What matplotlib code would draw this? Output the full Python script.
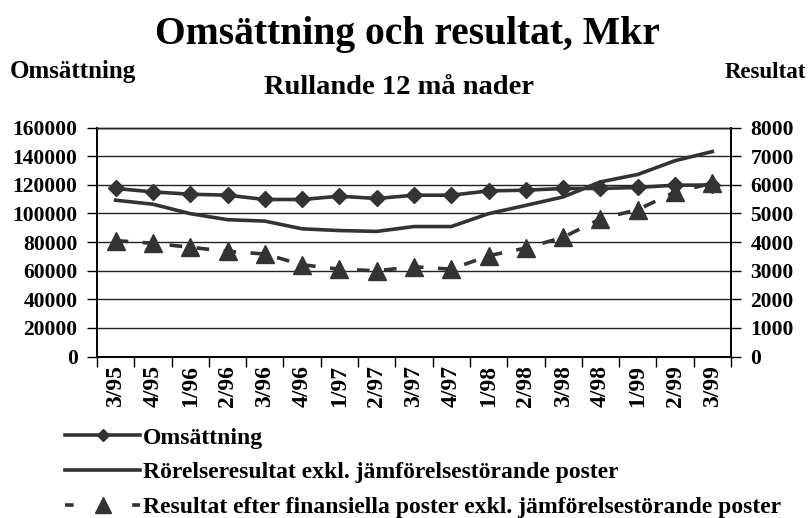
import matplotlib
matplotlib.use('Agg')
import matplotlib.pyplot as plt
from matplotlib.lines import Line2D
import numpy as np

categories = ['3/95', '4/95', '1/96', '2/96', '3/96', '4/96', '1/97', '2/97', '3/97',
              '4/97', '1/98', '2/98', '3/98', '4/98', '1/99', '2/99', '3/99']
omsattning = [117400, 115000, 113400, 112700, 109700, 109700, 112000, 110400, 112700,
              112700, 115700, 116200, 117400, 117400, 118100, 119700, 119800]
rorelseresultat = [5460, 5320, 4990, 4780, 4730, 4460, 4400, 4370, 4540,
                   4540, 4990, 5280, 5575, 6100, 6360, 6840, 7160]
resultat_fin = [4050, 3955, 3815, 3675, 3580, 3205, 3050, 2995, 3135,
                3050, 3520, 3790, 4165, 4810, 5130, 5750, 6050]
left_ticks = [0, 20000, 40000, 60000, 80000, 100000, 120000, 140000, 160000]
right_ticks = [0, 1000, 2000, 3000, 4000, 5000, 6000, 7000, 8000]

labels = ['Omsättning',
          'Rörelseresultat exkl. jämförelsestörande poster',
          'Resultat efter finansiella poster exkl. jämförelsestörande poster']

plt.rcParams['font.family'] = ['Liberation Serif', 'DejaVu Serif']
plt.rcParams['font.weight'] = 'bold'

W, H = 811, 518
fig = plt.figure(figsize=(W / 100, H / 100), dpi=100)
fig.patch.set_facecolor('white')

L, R, T, B = 97, 731, 127.5, 356.5
ax = fig.add_axes([L / W, (H - B) / H, (R - L) / W, (B - T) / H])
ax2 = ax.twinx()

col = '#333333'
x = np.arange(len(categories)) + 0.5

ax.set_xlim(0, len(categories))
ax.set_ylim(left_ticks[0], left_ticks[-1])
ax2.set_ylim(right_ticks[0], right_ticks[-1])

ax.set_yticks(left_ticks)
ax.set_yticklabels([str(v) for v in left_ticks])
ax2.set_yticks(right_ticks)
ax2.set_yticklabels([str(v) for v in right_ticks])

ax.grid(axis='y', color='#222222', linewidth=1.0)
ax.set_axisbelow(True)

ax.set_xticks(np.arange(len(categories) + 1))
ax.set_xticklabels([])
ax.set_xticks(x, minor=True)
ax.set_xticklabels(categories, minor=True, rotation=90, fontsize=17, fontweight='bold')
ax.tick_params(axis='x', which='major', direction='out', length=7, width=1, color='black')
ax.tick_params(axis='x', which='minor', length=0, pad=6)
ax.tick_params(axis='y', direction='out', length=7, width=1, pad=7, labelsize=15.5)
ax2.tick_params(axis='y', direction='out', length=7, width=1, pad=7, labelsize=15.5)
for lab in ax.get_yticklabels() + ax2.get_yticklabels():
    lab.set_fontweight('bold')

for a in (ax, ax2):
    a.spines['top'].set_visible(True)
    a.spines['top'].set_color('#222222')
    a.spines['top'].set_linewidth(1.0)
    for s in ('left', 'right', 'bottom'):
        a.spines[s].set_color('black')
        a.spines[s].set_linewidth(1.2)

ax.plot(x, omsattning, color=col, linewidth=2.6, marker='D', markersize=8.5,
        markeredgecolor=col, markerfacecolor=col, zorder=4, clip_on=False)
ax2.plot(x, rorelseresultat, color=col, linewidth=2.6, zorder=3, clip_on=False)
ax2.plot(x, resultat_fin, color=col, linewidth=2.6, linestyle=(0, (3.5, 4.0)),
         marker='^', markersize=12.5, markeredgecolor=col, markerfacecolor=col,
         zorder=3, clip_on=False)

fig.text(407 / W, (H - 44) / H, 'Omsättning och resultat, Mkr', ha='center',
         va='baseline', fontsize=28.5, fontweight='bold')
fig.text(10 / W, (H - 78) / H, 'Omsättning', ha='left', va='baseline',
         fontsize=18, fontweight='bold')
fig.text(806 / W, (H - 78) / H, 'Resultat', ha='right', va='baseline',
         fontsize=16.5, fontweight='bold')
fig.text(399 / W, (H - 94) / H, 'Rullande 12 må nader', ha='center',
         va='baseline', fontsize=20.5, fontweight='bold')

handles = [
    Line2D([], [], color=col, linewidth=2.6, marker='D', markersize=6.5,
           markerfacecolor=col, markeredgecolor=col),
    Line2D([], [], color=col, linewidth=2.6),
    Line2D([], [], color=col, linewidth=2.6, linestyle=(0, (2.4, 16.2)), marker='^',
           markersize=11, markerfacecolor=col, markeredgecolor=col),
]
fs = 17
leg = fig.legend(handles, labels, loc='upper left',
                 bbox_to_anchor=(65 / W, (H - 427) / H), frameon=False,
                 prop={'family': 'Liberation Serif', 'weight': 'bold', 'size': fs},
                 handlelength=75 / (fs * 100 / 72), handletextpad=3 / (fs * 100 / 72),
                 labelspacing=0.56,
                 numpoints=1, borderaxespad=0, borderpad=0)

fig.savefig('out.png', dpi=100, facecolor='white')
